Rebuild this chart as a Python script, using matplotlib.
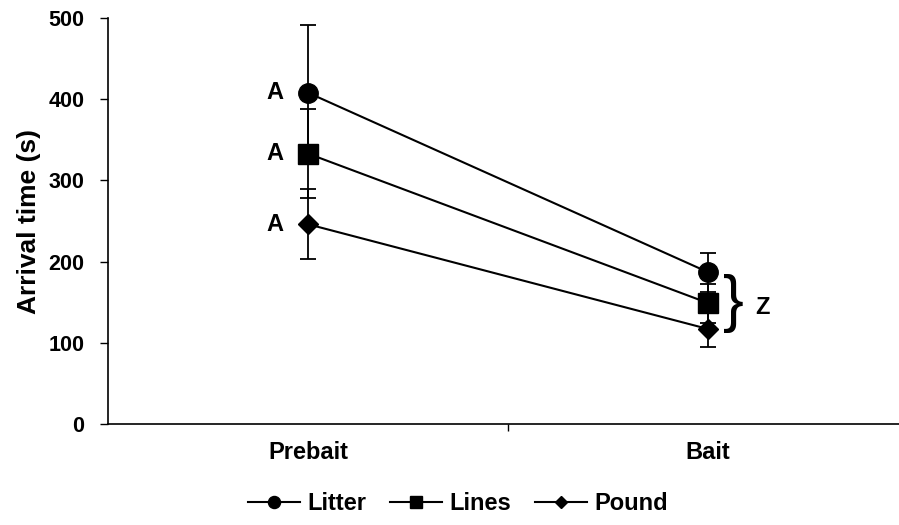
import matplotlib
matplotlib.use('Agg')
import matplotlib.pyplot as plt

plt.rcParams['font.family'] = ['Liberation Sans', 'DejaVu Sans']
plt.rcParams['font.weight'] = 'bold'

# data
phases = ['Prebait', 'Bait']
litter = [408, 187]
litter_err = [83, 24]
lines = [333, 149]
lines_err = [55, 24]
pound = [246, 117]
pound_err = [43, 22]
series_names = ['Litter', 'Lines', 'Pound']
prebait_letters = ['A', 'A', 'A']
bait_letter = 'Z'

fig = plt.figure(figsize=(8.99, 5.25), dpi=100)
ax = fig.add_axes([108 / 899, 101 / 525, 1 - 108 / 899, 406 / 525])

x = list(range(len(phases)))
styles = [('o', 14), ('s', 14), ('D', 10)]
handles = []
for vals, errs, (mk, ms), name in zip([litter, lines, pound],
                                      [litter_err, lines_err, pound_err],
                                      styles, series_names):
    ax.errorbar(x, vals, yerr=errs, fmt='none', ecolor='black',
                elinewidth=1.3, capsize=6, capthick=1.3, zorder=2)
    h, = ax.plot(x, vals, color='black', lw=1.5, marker=mk, ms=ms,
                 mfc='black', mec='black', zorder=3, label=name)
    handles.append(h)

ax.set_xlim(-0.5, 1.5 - 9 / 400)
ax.set_ylim(0, 500)
ax.set_yticks([0, 100, 200, 300, 400, 500])
ax.set_xticks(x)
ax.set_xticklabels(phases, fontsize=17, fontweight='bold')
ax.set_xticks([0.5], minor=True)
ax.tick_params(axis='x', which='major', length=0, pad=12)
ax.tick_params(axis='x', which='minor', length=5, width=1, direction='out')
ax.tick_params(axis='y', length=6, width=1, direction='out', labelsize=15.5, pad=11)
for lab in ax.get_yticklabels():
    lab.set_fontweight('bold')
ax.set_ylabel('Arrival time (s)', fontsize=19, fontweight='bold', labelpad=5)

for s in ['top', 'right']:
    ax.spines[s].set_visible(False)
for s in ['left', 'bottom']:
    ax.spines[s].set_linewidth(1.2)

# significance letters
for v, letter in zip([litter[0], lines[0], pound[0]], prebait_letters):
    ax.text(-0.083, v, letter, ha='center', va='center', fontsize=17, fontweight='bold')
ax.text(1.063, 149, '}', ha='center', va='center', fontsize=45, fontweight='normal')
ax.text(1.137, 143, bait_letter, ha='center', va='center', fontsize=17, fontweight='bold')

leg = fig.legend(handles=handles, loc='center', bbox_to_anchor=(458 / 899, 21 / 525),
                 ncol=3, frameon=False, fontsize=17, markerscale=0.62,
                 handlelength=2.2, columnspacing=1.0, handletextpad=0.33)
for t in leg.get_texts():
    t.set_fontweight('bold')

fig.savefig('out.png', dpi=100)
